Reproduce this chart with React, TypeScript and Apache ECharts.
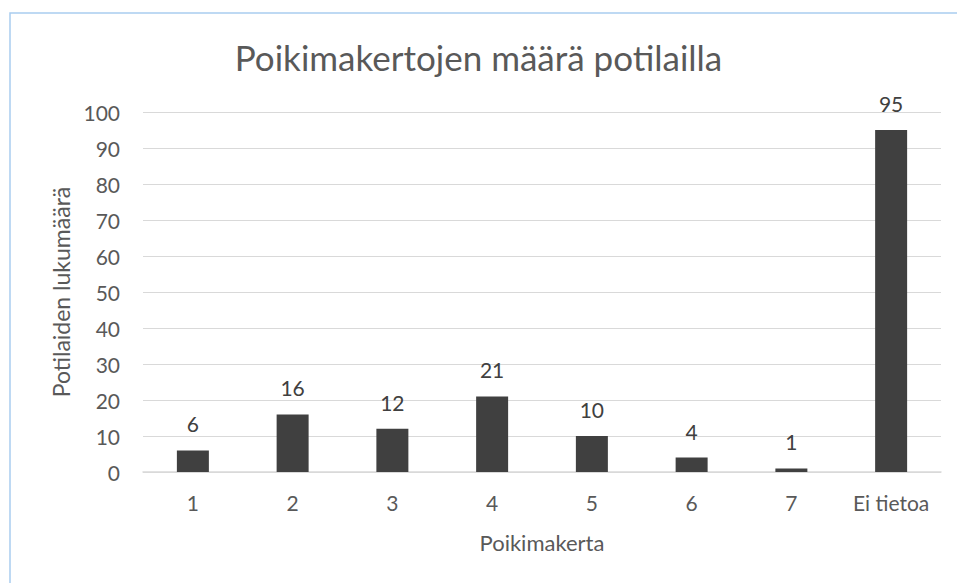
import React, { useEffect, useRef } from "react";
import * as echarts from "echarts";

const categories = ["1", "2", "3", "4", "5", "6", "7", "Ei tietoa"];
const values = [6, 16, 12, 21, 10, 4, 1, 95];
const titleText = "Poikimakertojen määrä potilailla";
const yName = "Potilaiden lukumäärä";
const xName = "Poikimakerta";

export default function App() {
  const ref = useRef<HTMLDivElement>(null);
  useEffect(() => {
    const chart = echarts.init(ref.current!, null, { renderer: "svg" });
    const font = "Lato, 'Open Sans', sans-serif";
    chart.setOption({
      animation: false,
      backgroundColor: "#ffffff",
      textStyle: { fontFamily: font },
      title: {
        text: titleText,
        left: "center",
        top: 34,
        textStyle: { fontFamily: font, fontSize: 35, fontWeight: "normal", color: "#595959" },
      },
      graphic: [
        {
          type: "rect",
          shape: { x: 10, y: 13, width: 960, height: 600 },
          style: { fill: "none", stroke: "#a9cdf0", lineWidth: 1.5 },
          silent: true,
        },
      ],
      grid: { left: 143, right: 16, top: 112, bottom: 111, containLabel: false },
      xAxis: {
        type: "category",
        data: categories,
        name: xName,
        nameLocation: "middle",
        nameGap: 59,
        nameTextStyle: { fontSize: 22, color: "#595959", fontFamily: font },
        axisLine: { lineStyle: { color: "#d9d9d9", width: 1.5 } },
        axisTick: { show: false },
        axisLabel: { fontSize: 21, color: "#595959", margin: 20, fontFamily: font },
      },
      yAxis: {
        type: "value",
        min: 0,
        max: 100,
        interval: 10,
        name: yName,
        nameLocation: "middle",
        nameGap: 70,
        nameTextStyle: { fontSize: 23, color: "#595959", fontFamily: font },
        axisLine: { show: false },
        axisTick: { show: false },
        axisLabel: { fontSize: 21, color: "#595959", margin: 23, fontFamily: font },
        splitLine: { lineStyle: { color: "#d9d9d9", width: 1.2 } },
      },
      series: [
        {
          type: "bar",
          data: values,
          barWidth: 32,
          itemStyle: { color: "#404040" },
          label: {
            show: true,
            position: "top",
            distance: 16,
            fontSize: 21,
            color: "#404040",
            fontFamily: font,
          },
        },
      ],
    });
    return () => chart.dispose();
  }, []);
  return (
    <div
      ref={ref}
      style={{ position: "fixed", left: 0, top: 0, width: 957, height: 583 }}
    />
  );
}
